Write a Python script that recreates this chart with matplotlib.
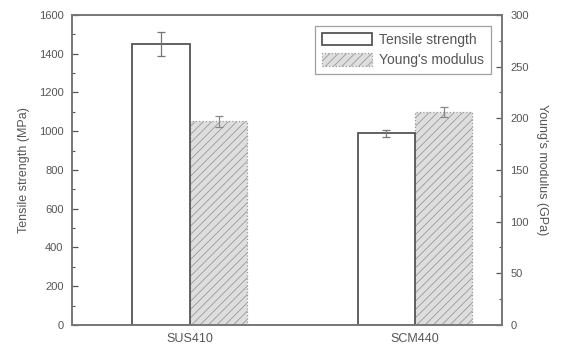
import matplotlib
matplotlib.use("Agg")
import matplotlib.pyplot as plt
import numpy as np
from matplotlib.ticker import MultipleLocator

categories = ["SUS410", "SCM440"]
tensile = [1450, 990]
tensile_err = [60, 18]
youngs = [197, 206]
youngs_err = [5, 5]

plt.rcParams['font.family'] = ['Liberation Sans', 'DejaVu Sans']
plt.rcParams['hatch.color'] = '#bbbbbb'
plt.rcParams['hatch.linewidth'] = 0.6

fig = plt.figure(figsize=(5.66, 3.49), dpi=100)
ax = fig.add_axes([0.127, 0.069, 0.76, 0.888])
ax2 = ax.twinx()

x = np.arange(len(categories))
w = 0.255
txt = '#555555'

b1 = ax.bar(x - w/2, tensile, w, yerr=tensile_err, color='white', edgecolor='#555555',
            linewidth=1.3, error_kw=dict(ecolor='#777777', elinewidth=0.9, capsize=3, capthick=0.9),
            label='Tensile strength', zorder=2)
b2 = ax2.bar(x + w/2, youngs, w, yerr=youngs_err, color='#dedede', edgecolor='#999999',
             linewidth=0.9, linestyle=':', hatch='////',
             error_kw=dict(ecolor='#888888', elinewidth=0.9, capsize=3, capthick=0.9),
             label="Young's modulus", zorder=2)

ax.set_xlim(-0.524, 1.387)
ax.set_ylim(0, 1600)
ax2.set_ylim(0, 300)
ax.set_xticks(x)
ax.set_xticklabels(categories)
ax.tick_params(axis='x', length=0, pad=6, labelsize=9, colors=txt)
ax.yaxis.set_major_locator(MultipleLocator(200))
ax.yaxis.set_minor_locator(MultipleLocator(100))
ax2.yaxis.set_major_locator(MultipleLocator(50))
ax2.yaxis.set_minor_locator(MultipleLocator(25))
for a in (ax, ax2):
    a.tick_params(axis='y', which='major', direction='in', length=4, width=0.9,
                  labelsize=8, colors=txt, pad=6)
    a.tick_params(axis='y', which='minor', direction='in', length=2, width=0.8, colors=txt)
    for s in a.spines.values():
        s.set_color('#777777')
        s.set_linewidth(1.2)

ax.set_ylabel('Tensile strength (MPa)', fontsize=9, color=txt, labelpad=6)
ax2.set_ylabel("Young's modulus (GPa)", fontsize=9, color=txt, rotation=270, labelpad=14)

leg = ax.legend(handles=[b1, b2], loc='upper right', bbox_to_anchor=(0.974, 0.965),
                borderaxespad=0,
                fontsize=10, frameon=True, fancybox=False, edgecolor='#888888',
                handlelength=3.6, handleheight=1.0, handletextpad=0.5,
                borderpad=0.5, labelspacing=0.45)
for t in leg.get_texts():
    t.set_color(txt)
leg.get_frame().set_linewidth(0.9)
ax.set_zorder(ax2.get_zorder() + 1)
ax.patch.set_visible(False)

fig.savefig('out.png', dpi=100)
